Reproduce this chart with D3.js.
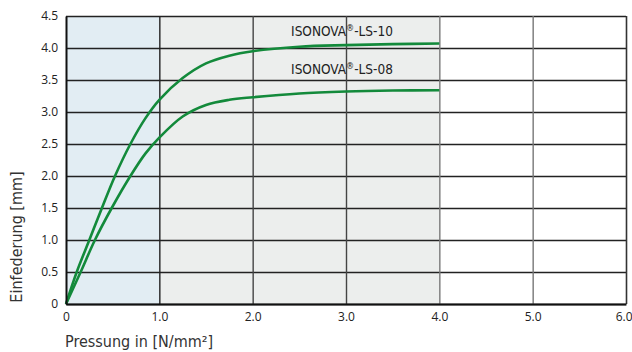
<!DOCTYPE html>
<html>
<head>
<meta charset="utf-8">
<script src="https://cdn.jsdelivr.net/npm/d3@7"></script>
<style>
body{margin:0;background:#fff;}
svg text{fill:#222;}
</style>
</head>
<body>
<main></main>
<script>
// values
var xTicks = [0, 1, 2, 3, 4, 5, 6];
var yTicks = [0, 0.5, 1, 1.5, 2, 2.5, 3, 3.5, 4, 4.5];
var zones = [[0, 1], [1, 4]];
var ls10 = [[0,0],[0.115,0.5],[0.25,1.0],[0.385,1.5],[0.525,2.0],[0.69,2.5],[0.85,2.9],[1.0,3.19],[1.25,3.53],[1.5,3.76],[1.75,3.88],[2.0,3.95],[2.5,4.02],[3.0,4.045],[3.5,4.06],[4.0,4.07]];
var ls08 = [[0,0],[0.157,0.5],[0.31,1.0],[0.49,1.5],[0.69,2.0],[0.85,2.35],[1.0,2.6],[1.25,2.93],[1.5,3.11],[1.75,3.19],[2.0,3.23],[2.5,3.29],[3.0,3.32],[3.5,3.335],[4.0,3.34]];
var labels = [{name:"LS-10", x:3.0, y:4.19}, {name:"LS-08", x:3.0, y:3.59}];

createSVG();

function createSVG(){
    var width = 632, height = 352;
    var svg = d3.select("main").append("svg")
        .attr("width", width)
        .attr("height", height)
        .style("display","block");

    var xScale = d3.scaleLinear().domain([0,6]).range([66,626]);
    var yScale = d3.scaleLinear().domain([0,4.5]).range([304,16]);

    // background zones
    svg.selectAll(".zone")
        .data(zones)
        .enter()
        .append("rect")
        .attr("x", d => xScale(d[0]))
        .attr("y", yScale(4.5))
        .attr("width", d => xScale(d[1]) - xScale(d[0]))
        .attr("height", yScale(0) - yScale(4.5))
        .style("fill", (d,i) => i == 0 ? "#e2edf3" : "#eceeed");

    // horizontal grid
    svg.append("g")
        .attr("transform","translate(66,0)")
        .call(d3.axisRight(yScale).tickValues(yTicks).tickSize(560).tickFormat(""))
        .call(g => g.select(".domain").remove())
        .selectAll("line").style("stroke","#222").style("stroke-width",1.4);

    // vertical grid
    svg.append("g")
        .attr("transform","translate(0,16)")
        .call(d3.axisBottom(xScale).tickValues(xTicks.slice(1)).tickSize(288).tickFormat(""))
        .call(g => g.select(".domain").remove())
        .selectAll("line")
        .style("stroke", d => d == 1 ? "#222" : (d < 4 ? "#444" : (d == 6 ? "#333" : "#777")))
        .style("stroke-width", d => d == 6 ? 1.6 : 1.4);

    // curves
    var line = d3.line()
        .x(d => xScale(d[0]))
        .y(d => yScale(d[1]))
        .curve(d3.curveCatmullRom.alpha(0.5));

    svg.selectAll(".curve")
        .data([ls10, ls08])
        .enter()
        .append("path")
        .attr("d", line)
        .style("fill","none")
        .style("stroke","#138a3b")
        .style("stroke-width",2.6);

    // axes
    var xAxis = svg.append("g")
        .attr("transform","translate(0,304)")
        .call(d3.axisBottom(xScale).tickValues(xTicks).tickSize(0).tickPadding(8)
            .tickFormat(d => d == 0 ? "0" : d3.format(".1f")(d)));
    xAxis.select(".domain").style("stroke","#111").style("stroke-width",2);
    xAxis.selectAll("text")
        .style("font-family","'Open Sans'")
        .style("font-size","12px")
        .style("fill","#222")
        .attr("dy","0.71em")
        .filter(d => d == 6).attr("text-anchor","end").attr("dx",6);

    var yAxis = svg.append("g")
        .attr("transform","translate(66,0)")
        .call(d3.axisLeft(yScale).tickValues(yTicks).tickSize(0).tickPadding(8)
            .tickFormat(d => d == 0 ? "0" : d3.format(".1f")(d)));
    yAxis.select(".domain").style("stroke","#111").style("stroke-width",2);
    yAxis.selectAll("text")
        .style("font-family","'Open Sans'")
        .style("font-size","12px")
        .style("fill","#222");

    // series labels
    var lab = svg.selectAll(".lab")
        .data(labels)
        .enter()
        .append("text")
        .attr("x", d => xScale(d.x) - 4)
        .attr("y", d => yScale(d.y))
        .attr("text-anchor","middle")
        .style("font-family","'DejaVu Sans Condensed',sans-serif")
        .style("font-size","13.5px");
    lab.append("tspan").text("ISONOVA");
    lab.append("tspan").text("®").attr("dy",-5).style("font-size","9px");
    lab.append("tspan").text(d => "-" + d.name).attr("dy",5);

    // axis titles
    svg.append("text")
        .attr("x",65)
        .attr("y",347)
        .style("font-family","'DejaVu Sans Condensed',sans-serif")
        .style("font-size","16px")
        .style("fill","#333")
        .text("Pressung in [N/mm²]");

    svg.append("text")
        .attr("transform","translate(22,237) rotate(-90)")
        .attr("text-anchor","middle")
        .style("font-family","'DejaVu Sans Condensed',sans-serif")
        .style("font-size","16px")
        .style("fill","#333")
        .text("Einfederung [mm]");
}
</script>
</body>
</html>
